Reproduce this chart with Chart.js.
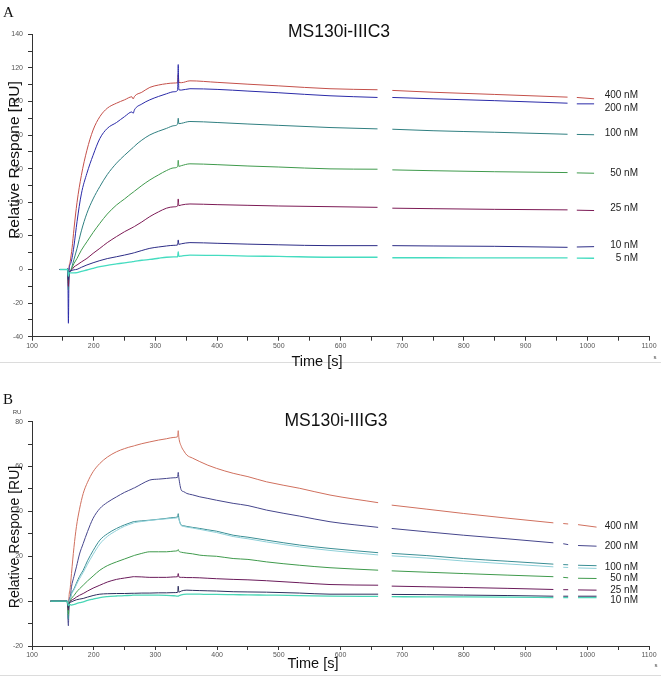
<!DOCTYPE html>
<html>
<head>
<meta charset="utf-8">
<script src="https://cdn.jsdelivr.net/npm/chart.js@4.4.0/dist/chart.umd.min.js"></script>
<style>
  html, body { margin: 0; padding: 0; background: #fff; }
  body { width: 661px; height: 679px; position: relative; overflow: hidden; font-family: "Liberation Sans", Arial, sans-serif; }
  canvas { position: absolute; left: 0; }
  .t { position: absolute; white-space: nowrap; color: #111; line-height: 1; }
  .panel { font-family: "Liberation Serif", "DejaVu Serif", serif; font-size: 15px; }
  .title { font-size: 17.5px; transform: translate(-50%, -50%); }
  .ytitle { font-size: 15.5px; transform: translate(-50%, -50%) rotate(-90deg); }
  .xtitle { font-size: 14.5px; transform: translate(-50%, -50%); }
  .tiny { font-size: 6px; color: #444; transform: translate(-50%, -50%); }
  .conc { font-size: 10px; transform: translate(-100%, -50%); color: #222; }
  .sep { position: absolute; left: 0; width: 661px; height: 1px; background: #dcdcdc; }
</style>
</head>
<body>
<div class="sep" style="top:362px"></div>
<div class="sep" style="top:675px"></div>
<canvas id="cA" width="661" height="372" style="top:0"></canvas>
<canvas id="cB" width="661" height="307" style="top:372px"></canvas>

<div class="t panel" style="left:3px;top:5px">A</div>
<div class="t title" style="left:339px;top:32px">MS130i-IIIC3</div>
<div class="t ytitle" style="left:14px;top:160px">Relative Respone [RU]</div>
<div class="t xtitle" style="left:317px;top:361px">Time [s]</div>
<div class="t tiny" style="left:655px;top:357px">s</div>

<div class="t panel" style="left:3px;top:392px">B</div>
<div class="t tiny" style="left:17px;top:412px">RU</div>
<div class="t title" style="left:336px;top:421px">MS130i-IIIG3</div>
<div class="t ytitle" style="left:14px;top:537px;font-size:14px">Relative Respone [RU]</div>
<div class="t xtitle" style="left:313px;top:663px">Time [s]</div>
<div class="t tiny" style="left:656px;top:665px">s</div>

<div id="labels"></div>

<script>
// ---------------- Panel A: MS130i-IIIC3 ----------------
const tA = [145,156,158,159,160,162,165,168,173,180,189,199,210,222,237,250,262,264,266,278,291,305,318,330,336,337,338,342,356,400,450,500,583,660,672,684,750,850,968,975,983,1011];
const a400 = [0,0,0.5,-6,1,5,13,24,40,56,71,83,91,96,99,101,102.8,101.5,103,105.5,108.4,109.8,110.6,111,111.2,116,111.4,111.2,112.3,111.4,110.3,109.3,107.6,107,null,106.6,105.5,104.2,102.6,null,102.4,101.6];
const a200 = [0,0,0.5,-32,-1,3,7,14,28.5,45,57.3,68,78,84,87.5,91,93.8,93,95,98.5,101,103,104.6,105.8,106.6,122,107,106.8,107.6,107.2,106.2,105.2,103.4,102.4,null,102.4,101.6,100.5,99,null,98.6,98.6];
const a100 = [0,0,0,-12,-2,-1,2,6,12.6,23,33.5,42,49.4,56.5,63.3,68,72,72.6,73.4,77,80.1,82.3,84,85.6,86.5,90,86.8,87,88.1,87.5,86.6,85.8,84.5,83.7,null,83.5,82.6,81.7,80.5,null,80.4,80.2];
const a50  = [0,0,0,-8,-2,-1,1,3.5,6.6,11.5,16.5,22,27.5,33,38.4,42,45.5,46,46.6,50,53.3,56.3,58.9,60.5,61.2,65,61.4,61.8,62.9,62.4,61.6,61,59.9,59.7,null,59.3,58.8,58.2,57.7,null,57.5,57.3];
const a25  = [0,0,0,-10,-3,-1,0,1.5,2.7,4.5,6.6,9.6,12.6,16,19.6,22.5,24.8,25.2,25.6,28.3,31.5,34.3,36.5,37.3,37.8,42,38,38.4,39,38.6,38.2,37.8,37.4,37,null,36.5,36.2,35.8,35.5,null,35.3,35.1];
const a10  = [0,0,0,-6,-2,-1,-0.5,-0.2,0.1,1.3,2.7,4,5.3,6.5,7.6,8.6,9.6,9.8,10,11.3,12.6,13.4,14,14.4,14.6,17.6,15,15.3,16,15.6,15.1,14.7,14.2,14.2,null,14.2,14,13.8,13.2,null,13.4,13.6];
const a5   = [0,0,0,-4,-2,-2,-2,-2,-1.9,-1.1,-0.3,0.7,1.7,2.5,3.3,4,4.6,4.7,4.8,5.5,6,6.7,7.3,7.5,7.6,10.6,7.8,8,8.6,8.4,8,7.8,7.3,7.3,null,7,7,6.9,6.9,null,6.8,6.7];
const labelsA = ["400 nM","200 nM","100 nM","50 nM","25 nM","10 nM","5 nM"];
const labelYA = [95,108,133,173,208,245,258];

// ---------------- Panel B: MS130i-IIIG3 ----------------
const tB = [130,150,157,159,160,162,164,168,172,177,183,190,199,210,222,237,250,262,264,266,278,291,305,318,330,336,337,338,342,346,351,360,372,385,399,426,450,480,534,583,661,672,683,740,799,870,945,953,961,969,977,985,1015];
const b400 = [0,0,0,-5,2,6,12.3,24,33.2,41,48,53,57.7,61.4,64.2,66.6,68,69,69.1,69.3,70.2,71,71.8,72.4,73,73.3,76,73,69,67,65.1,63.8,62.2,60.6,59.2,57,55.5,53.2,50.3,47.3,43.9,null,42.8,41,39.1,37,34.9,null,34.6,34.4,null,34.1,33];
const b200 = [0,0,0,-11,0,2,6.4,11,15.3,21,25.7,31,36.9,41.3,44,46.5,48.5,50,50.3,50.5,52.3,54,54.4,54.7,55,55.2,57.4,55,49.5,48.8,48,47.4,46.5,45.8,45,43.6,42.6,40.6,37.9,35.4,32.9,null,32.4,30.9,29.4,27.8,26,null,25.6,25.2,null,24.8,24.5];
const b100 = [0,0,0,-8,-1,1,3.4,5.5,8,11,13.8,18,22.5,27.2,30,32.4,34,35.2,35.4,35.5,35.8,36.1,36.5,36.9,37.3,37.6,39,37,33.9,33.6,33.3,32.9,32.4,31.8,31.2,29.4,28.5,27.2,25,23.5,21.6,null,21.3,20.3,19,17.8,16.5,null,16.3,16.2,null,16,15.8];
const b100f = [0,0,0,-6,-1,1,3,5,7.3,10,12.8,16.5,20.8,25.5,28.8,31.5,33.4,34.6,34.8,35,35.5,36,36.4,36.7,37,37.2,37.5,36.6,33.6,33.3,33,32.6,32,31.3,30.6,28.8,27.8,26.4,24.2,22.6,20.6,null,20.2,19.2,17.9,16.6,15.3,null,15.1,15,null,14.8,14.6];
const b50  = [0,0,0,-6,-1,0,1.2,2.5,4,5.5,7.1,9,11.2,13.8,15.8,17.5,18.8,20,20.2,20.4,21.3,22,22,22,22.3,22.5,23,22.3,21.8,21.6,21.4,21.1,20.5,20.2,20,19,18.6,17.5,16,14.9,13.8,null,13.5,12.9,12.3,11.6,10.9,null,10.6,10.4,null,10.2,10.1];
const b25  = [0,0,0,-4,-1,-0.5,0.4,1,1.8,2.6,3.4,4.5,5.8,7.1,8.5,9.7,10.3,10.8,10.9,10.9,10.8,10.6,10.6,10.6,10.8,10.9,12.3,10.8,10.6,10.6,10.5,10.5,10.4,10.2,10,9.7,9.5,9.1,8.2,7.4,7.1,null,6.7,6.4,6.1,5.7,5.2,null,5.1,5.1,null,5,4.9];
const b10  = [0,0,0,-3,-1,-0.5,-0.3,0.2,0.6,0.9,1.2,1.8,2.5,3.1,3.3,3.4,3.4,3.5,3.5,3.5,3.6,3.6,3.7,3.7,3.8,3.9,6.7,4,4.5,4.8,4.9,4.8,4.7,4.6,4.5,4.2,4.1,4,3.6,3.1,3.1,null,3,2.9,2.7,2.5,2.2,null,2.2,2.2,null,2.2,2.2];
const b5   = [0,0,0,-2,-1.5,-1.6,-1.8,-1.5,-1.1,-0.7,-0.3,0.3,0.9,1.6,2,2.3,2.5,2.6,2.7,2.7,2.7,2.7,2.7,2.6,2.4,2.2,2.2,2.4,2.8,3,3.1,3.1,3.1,3,3,2.9,2.8,2.7,2.5,2.2,2.1,null,2,1.9,1.9,1.8,1.6,null,1.6,1.6,null,1.6,1.6];
const labelsB = ["400 nM","200 nM","100 nM","50 nM","25 nM","10 nM"];
const labelYB = [526,546,567,578,590,600];

// axis tick settings
const xTicks = {min:100, max:1100, step:50, labelEvery:100};
const yTicksA = {min:-40, max:140, step:10, labelEvery:20};
const yTicksB = {min:-20, max:80, step:10, labelEvery:20};

function series(t, v) { return t.map((x, i) => ({x: x, y: v[i]})); }
function ds(label, t, v, color, w) {
  return { label, data: series(t, v), borderColor: color, borderWidth: w || 1,
           pointRadius: 0, fill: false, spanGaps: false, cubicInterpolationMode: 'monotone' };
}

function makeChart(id, datasets, yT, padTop, xH) {
  const tickFont = { family: "Liberation Sans, Arial, sans-serif", size: 7 };
  return new Chart(document.getElementById(id), {
    type: 'line',
    data: { datasets },
    options: {
      responsive: false, animation: false, devicePixelRatio: 1,
      layout: { padding: { left: 0, right: 12, top: padTop, bottom: 0 } },
      plugins: { legend: { display: false }, tooltip: { enabled: false } },
      scales: {
        x: {
          type: 'linear', min: xTicks.min, max: xTicks.max,
          afterFit: s => { s.height = xH; },
          border: { display: true, color: '#333', width: 1 },
          grid: { display: true, drawOnChartArea: false, drawTicks: true, tickLength: 4, color: '#333' },
          ticks: { stepSize: xTicks.step, autoSkip: false, maxRotation: 0, padding: 1, color: '#555', font: tickFont,
                   callback: v => (v % xTicks.labelEvery === 0 ? String(v) : '') }
        },
        y: {
          type: 'linear', min: yT.min, max: yT.max,
          afterFit: s => { s.width = 32; },
          border: { display: true, color: '#333', width: 1 },
          grid: { display: true, drawOnChartArea: false, drawTicks: true, tickLength: 4, color: '#333' },
          ticks: { stepSize: yT.step, autoSkip: false, padding: 5, color: '#555', font: tickFont,
                   callback: v => (v % yT.labelEvery === 0 ? String(v) : '') }
        }
      }
    }
  });
}

makeChart('cA', [
  ds(labelsA[6], tA, a5,   '#45dcc0', 1.3),
  ds(labelsA[5], tA, a10,  '#2c2c86'),
  ds(labelsA[4], tA, a25,  '#7c1a55'),
  ds(labelsA[3], tA, a50,  '#3f9a4c'),
  ds(labelsA[2], tA, a100, '#2f7f80'),
  ds(labelsA[1], tA, a200, '#2a2aa8'),
  ds(labelsA[0], tA, a400, '#c4504a')
], yTicksA, 34.3, 35.3);

makeChart('cB', [
  ds(labelsB[5] + ' (low)', tB, b5, '#4ad6b6', 1.3),
  ds(labelsB[5], tB, b10,  '#2e2e5e'),
  ds(labelsB[4], tB, b25,  '#6a1a5a'),
  ds(labelsB[3], tB, b50,  '#3f9a4c'),
  ds(labelsB[2] + ' fit', tB, b100f, '#8fd0d8'),
  ds(labelsB[2], tB, b100, '#3a8e94'),
  ds(labelsB[1], tB, b200, '#46468c'),
  ds(labelsB[0], tB, b400, '#d0705e')
], yTicksB, 49.7, 33);

// concentration labels
const lab = document.getElementById('labels');
function addLabels(names, ys) {
  names.forEach((n, i) => {
    const d = document.createElement('div');
    d.className = 't conc';
    d.style.left = '638px';
    d.style.top = ys[i] + 'px';
    d.textContent = n;
    lab.appendChild(d);
  });
}
addLabels(labelsA, labelYA);
addLabels(labelsB, labelYB);
</script>
</body>
</html>
